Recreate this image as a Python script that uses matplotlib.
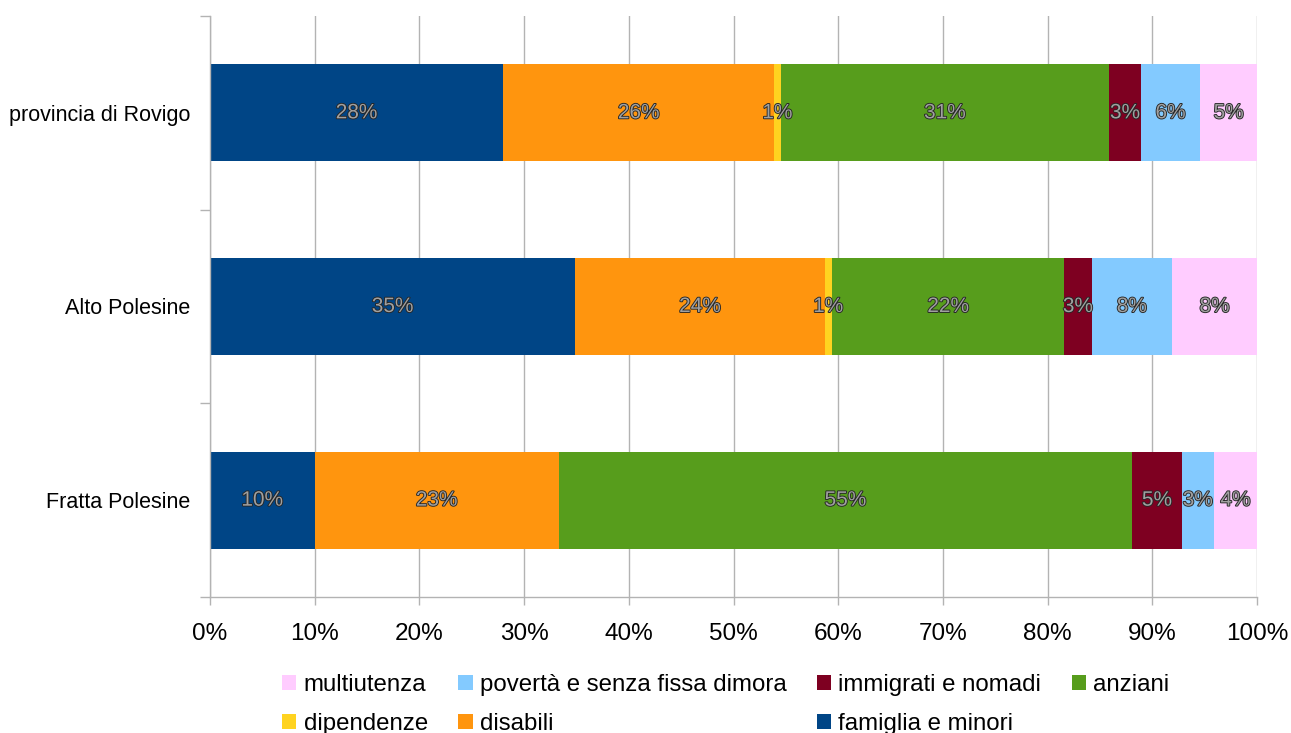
import matplotlib.pyplot as plt
import matplotlib.patheffects as pe
from matplotlib.patches import Patch
from matplotlib.ticker import FixedLocator, PercentFormatter

plt.rcParams['font.family'] = ['Liberation Sans', 'DejaVu Sans']

# data (percentages)
areas = ['provincia di Rovigo', 'Alto Polesine', 'Fratta Polesine']
series = ['famiglia e minori', 'disabili', 'dipendenze', 'anziani',
          'immigrati e nomadi', 'povertà e senza fissa dimora', 'multiutenza']
famiglia = [28.0, 34.9, 10.0]
disabili = [25.9, 23.8, 23.3]
dipendenze = [0.6, 0.7, 0.0]
anziani = [31.4, 22.2, 54.8]
immigrati = [3.0, 2.6, 4.7]
poverta = [5.7, 7.7, 3.1]
multiutenza = [5.4, 8.1, 4.1]
colors = ['#004586', '#ff950e', '#ffd320', '#579d1c', '#7e0021', '#83caff', '#ffccff']

values = [famiglia, disabili, dipendenze, anziani, immigrati, poverta, multiutenza]

fig = plt.figure(figsize=(12.91, 7.33), dpi=100)
ax = fig.add_axes([210/1291, 1-597/733, (1257-210)/1291, (597-16)/733])

ypos = list(range(len(areas)))
left = [0.0] * len(areas)
for name, vals, col in zip(series, values, colors):
    ax.barh(ypos, vals, left=left, height=0.5, color=col, label=name, zorder=2)
    for y, l, v in zip(ypos, left, vals):
        if v <= 0:
            continue
        t = ax.text(l + v/2, y, '%d%%' % round(v), ha='center', va='center',
                    fontsize=15, color='#a0a0a0', zorder=3)
        t.set_path_effects([pe.Stroke(linewidth=1.3, foreground='#262626'), pe.Normal()])
    left = [a + b for a, b in zip(left, vals)]

ax.set_xlim(0, 100)
ax.set_ylim(2.5, -0.5)
ax.set_xticks(range(0, 101, 10))
ax.xaxis.set_major_formatter(PercentFormatter(decimals=0))
ax.set_yticks(ypos)
ax.set_yticklabels(areas)
ax.yaxis.set_minor_locator(FixedLocator([-0.5, 0.5, 1.5, 2.5]))
ax.tick_params(axis='y', which='major', length=0, pad=14, labelsize=15.5)
ax.tick_params(axis='y', which='minor', length=7, color='#b3b3b3', width=1)
ax.tick_params(axis='x', which='major', length=5.8, color='#b3b3b3', width=1,
               pad=13, labelsize=17.5)
ax.grid(axis='x', color='#b3b3b3', linewidth=1, zorder=0)
ax.set_axisbelow(True)
for s in ['top', 'right']:
    ax.spines[s].set_visible(False)
for s in ['left', 'bottom']:
    ax.spines[s].set_color('#b3b3b3')
    ax.spines[s].set_linewidth(1)

# legend in LibreOffice row-wise order, reshuffled for matplotlib column filling
order = ['multiutenza', 'dipendenze', 'povertà e senza fissa dimora', 'disabili',
         'immigrati e nomadi', 'famiglia e minori', 'anziani']
cmap = dict(zip(series, colors))
handles = [Patch(facecolor=cmap[n], edgecolor='none') for n in order]
fig.legend(handles, order, loc='upper left', bbox_to_anchor=(282/1291, 1-674/733),
           ncol=4, frameon=False, fontsize=17.3, borderpad=0, borderaxespad=0,
           handlelength=0.6, handleheight=0.6, handletextpad=0.3,
           columnspacing=1.26, labelspacing=0.7)

fig.savefig('out.png', dpi=100)
